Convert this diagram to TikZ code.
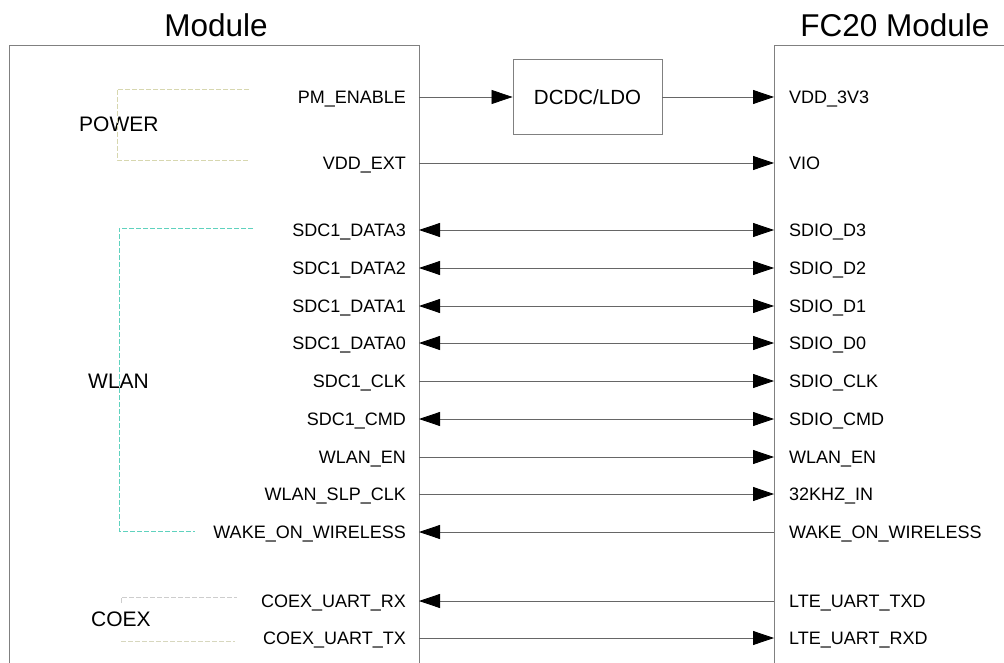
\documentclass[tikz,border=0pt]{standalone}
\usepackage{fontspec}
\setmainfont{Liberation Sans}
\usetikzlibrary{arrows.meta}
\begin{document}
\begin{tikzpicture}[x=1pt,y=-1pt,
  >={Triangle[length=21pt,width=14pt,color=black]},
  lbl/.style={font=\fontsize{18}{21}\selectfont, inner sep=0pt},
  grp/.style={font=\fontsize{21}{25}\selectfont, inner sep=0pt, anchor=base west},
  ttl/.style={font=\fontsize{31.5}{36}\selectfont, inner sep=0pt, anchor=base},
  boxline/.style={draw=black!50, line width=0.9pt},
  sig/.style={draw=black!60, line width=0.8pt},
  brk/.style={dash pattern=on 5pt off 2pt, line width=0.8pt}]
\useasboundingbox (0,0) rectangle (1004,663);
\clip (0,0) rectangle (1004,663);
\fill[white] (0,0) rectangle (1004,663);
% module boxes
\draw[boxline] (9,700) -- (9,45) -- (419,45) -- (419,700);
\draw[boxline] (774,700) -- (774,45) -- (1010,45);
\node[ttl] (tl) at (216,37) {Module};
\node[ttl] (tr) at (895,37) {FC20 Module};
% group labels
\node[grp] (gpow) at (79,132) {POWER};
\node[grp] (gwlan) at (88,388) {WLAN};
\node[grp] (gcoex) at (91,626) {COEX};
\draw[brk, color={rgb,255:red,215;green,215;blue,175}] (249,89) -| (117,160) -- (249,160);
\draw[brk, color={rgb,255:red,95;green,210;blue,190}] (253,228) -| (119,531) -- (195,531);
\draw[brk, color={rgb,255:red,205;green,205;blue,205}] (121,603) -- (121,597) -- (237,597);
\draw[brk, color={rgb,255:red,215;green,215;blue,190}] (121,641) -- (235,641);
% DCDC
\node[boxline, minimum width=149pt, minimum height=75pt, inner sep=0pt,
      font=\fontsize{20.5}{24}\selectfont] (dcdc) at (587.5,97) {DCDC/LDO};
% row 1
\node[lbl, anchor=base east] (L1) at (406,103.5) {PM\_ENABLE};
\node[lbl, anchor=base west] (R1) at (789,103.5) {VDD\_3V3};
\coordinate (a1) at (419,97);
\coordinate (b1) at (774,97);
\draw[sig,->] (a1) -- (dcdc.west);
\draw[sig,->] (dcdc.east) -- (b1);
% other rows
\foreach \i/\y/\l/\r/\d in {
  2/163/VDD\_EXT/VIO/->,
  3/230/SDC1\_DATA3/SDIO\_D3/<->,
  4/268/SDC1\_DATA2/SDIO\_D2/<->,
  5/306/SDC1\_DATA1/SDIO\_D1/<->,
  6/343/SDC1\_DATA0/SDIO\_D0/<->,
  7/381/SDC1\_CLK/SDIO\_CLK/->,
  8/419/SDC1\_CMD/SDIO\_CMD/<->,
  9/457/WLAN\_EN/WLAN\_EN/->,
  10/494/WLAN\_SLP\_CLK/32KHZ\_IN/->,
  11/532/WAKE\_ON\_WIRELESS/WAKE\_ON\_WIRELESS/<-,
  12/601/COEX\_UART\_RX/LTE\_UART\_TXD/<-,
  13/638/COEX\_UART\_TX/LTE\_UART\_RXD/->}{
  \node[lbl, anchor=base east] (L\i) at (406,\y+6.5) {\l};
  \node[lbl, anchor=base west] (R\i) at (789,\y+6.5) {\r};
  \coordinate (a\i) at (419,\y);
  \coordinate (b\i) at (774,\y);
  \draw[sig,\d] (a\i) -- (b\i);
}
\end{tikzpicture}
\end{document}
